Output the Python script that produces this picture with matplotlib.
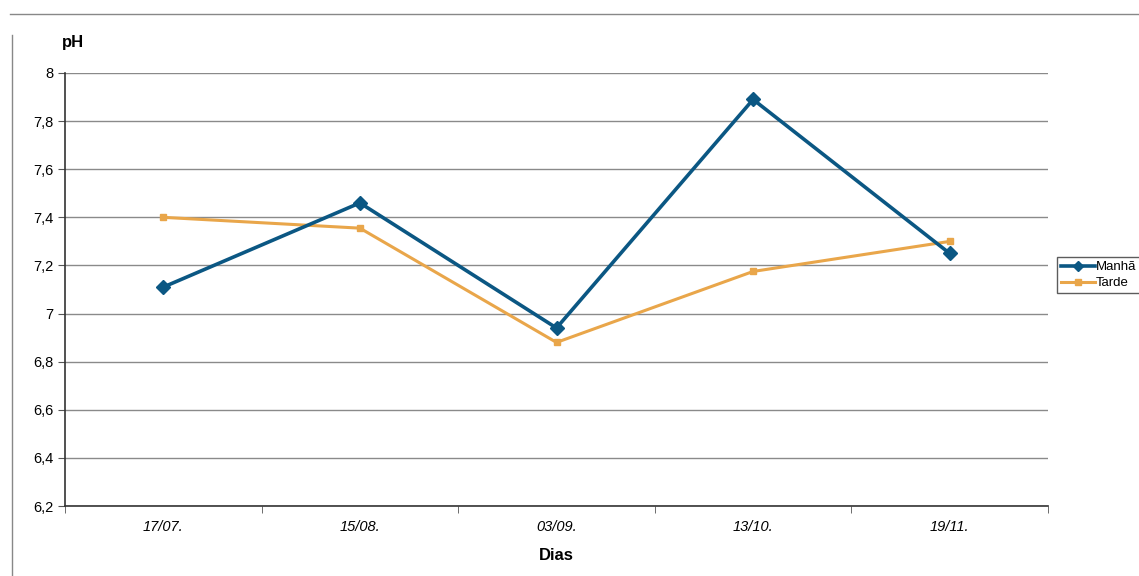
import numpy as np
import matplotlib.pyplot as plt
from matplotlib.lines import Line2D

# ---------- data ----------
dias = ["17/07.", "15/08.", "03/09.", "13/10.", "19/11."]
manha = [7.11, 7.46, 6.94, 7.89, 7.25]
tarde = [7.40, 7.355, 6.88, 7.175, 7.30]
y_ticks = [6.2, 6.4, 6.6, 6.8, 7.0, 7.2, 7.4, 7.6, 7.8, 8.0]
# ---------------------------------------------

BLUE = "#0b5783"
ORANGE = "#e9a64a"

plt.rcParams["font.family"] = ["Liberation Sans", "DejaVu Sans"]

fig = plt.figure(figsize=(11.39, 5.76), dpi=100)
ax = fig.add_axes([65/1139, 1 - 506/576, (1048 - 65)/1139, (506 - 73)/576])

x = np.arange(len(dias))
ax.plot(x, manha, color=BLUE, lw=2.6, marker="D", ms=7, label="Manhã", zorder=4)
ax.plot(x, tarde, color=ORANGE, lw=2.2, marker="s", ms=5, label="Tarde", zorder=3)

ax.set_xlim(-0.5, len(dias) - 0.5)
ax.set_ylim(6.2, 8.0)
ax.set_yticks(y_ticks)
ax.set_yticklabels([("%g" % v).replace(".", ",") for v in y_ticks], fontsize=10.5)
ax.set_xticks(x)
ax.set_xticklabels(dias, fontsize=10.5, style="italic")
ax.tick_params(axis="x", length=0, pad=10)
ax.set_xticks(np.arange(-0.5, len(dias)), minor=True)
ax.tick_params(axis="x", which="minor", length=5, color="#555555")
ax.tick_params(axis="y", length=5, color="#555555")

ax.grid(axis="y", color="#8a8a8a", lw=1)
ax.set_axisbelow(True)
for s in ["top", "right"]:
    ax.spines[s].set_visible(False)
for s in ["left", "bottom"]:
    ax.spines[s].set_color("#333333")
    ax.spines[s].set_linewidth(1.2)

ax.set_xlabel("Dias", fontsize=12, fontweight="bold", labelpad=10)
fig.text(62/1139, 1 - 43/576, "pH", fontsize=12, fontweight="bold", va="center")

# scanned outer frame
fig.add_artist(Line2D([10/1139, 1.0], [1 - 14/576, 1 - 14/576], color="#888888", lw=1))
fig.add_artist(Line2D([12/1139, 12/1139], [1 - 35/576, 0.0], color="#888888", lw=1))

fig.legend(loc="upper left", bbox_to_anchor=(1057/1139, 1 - 257/576),
           fontsize=9.5, frameon=True, fancybox=False, edgecolor="#333333",
           handlelength=2.6, handletextpad=0.05, borderpad=0.3,
           labelspacing=0.3, borderaxespad=0, markerscale=0.75)

fig.savefig("out.png", dpi=100)
